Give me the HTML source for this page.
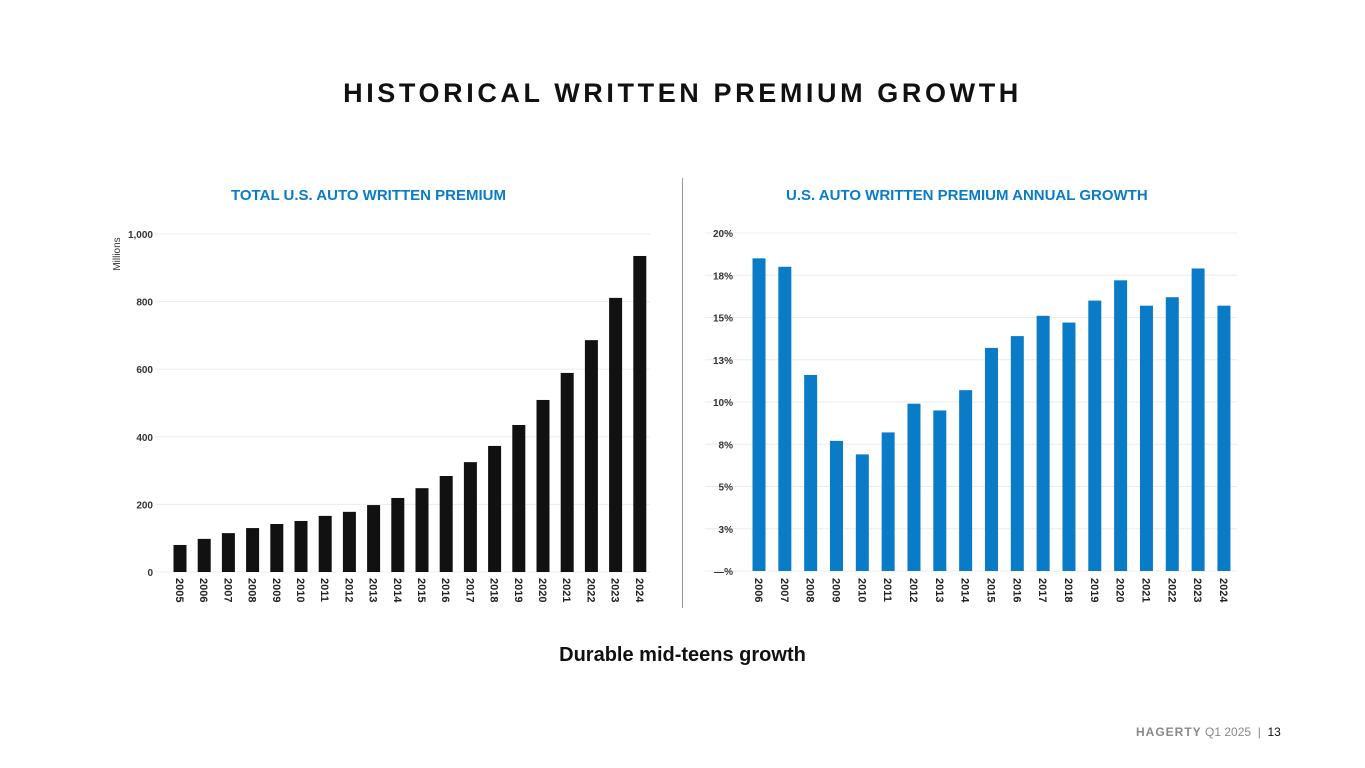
<!DOCTYPE html>
<html><head><meta charset="utf-8"><style>
body{margin:0;width:1365px;height:768px;background:#fff;overflow:hidden;font-family:"Liberation Sans",sans-serif;position:relative}
.t{position:absolute;white-space:nowrap}
</style></head><body>
<div class="t" style="left:0;width:1365px;text-align:center;top:78px;font-size:27px;font-weight:900;letter-spacing:3.6px;color:#111">HISTORICAL WRITTEN PREMIUM GROWTH</div>
<div class="t" style="left:231px;top:187px;font-size:15px;font-weight:bold;color:#0a7cc7">TOTAL U.S. AUTO WRITTEN PREMIUM</div>
<div class="t" style="left:786px;top:187px;font-size:15px;font-weight:bold;color:#0a7cc7">U.S. AUTO WRITTEN PREMIUM ANNUAL GROWTH</div>
<div class="t" style="left:0;width:1365px;text-align:center;top:644px;font-size:20px;font-weight:bold;color:#111">Durable mid-teens growth</div>
<div class="t" style="left:1136px;top:725px;font-size:12px;color:#888"><b style="letter-spacing:1px">HAGERTY</b> Q1 2025 &nbsp;|&nbsp; <span style="color:#111">13</span></div>
<div style="position:absolute;left:682px;top:178px;width:1px;height:430px;background:#999"></div>
<svg id="c" width="1365" height="768" style="position:absolute;left:0;top:0"></svg>
<script>
const leftYears=["2005","2006","2007","2008","2009","2010","2011","2012","2013","2014","2015","2016","2017","2018","2019","2020","2021","2022","2023","2024"];
const leftValues=[80,98,115,130,142,151,166,178,198,219,248,284,325,373,435,509,589,686,811,935];
const leftTicks=[0,200,400,600,800,1000];
const leftTickLabels=["0","200","400","600","800","1,000"];
const rightYears=["2006","2007","2008","2009","2010","2011","2012","2013","2014","2015","2016","2017","2018","2019","2020","2021","2022","2023","2024"];
const rightValues=[18.5,18.0,11.6,7.7,6.9,8.2,9.9,9.5,10.7,13.2,13.9,15.1,14.7,16.0,17.2,15.7,16.2,17.9,15.7];
const rightTicks=[0,2.5,5,7.5,10,12.5,15,17.5,20];
const rightTickLabels=["—%","3%","5%","8%","10%","13%","15%","18%","20%"];
const svg=document.getElementById('c');const NS='http://www.w3.org/2000/svg';
function mk(t,a,txt){const e=document.createElementNS(NS,t);for(const k in a)e.setAttribute(k,a[k]);if(txt!==undefined)e.textContent=txt;svg.appendChild(e);return e;}
function chart(o){
 const y=v=>o.y0-(v/o.max)*(o.y0-o.y1);
 const x=i=>o.x0+i*o.step;
 o.ticks.forEach((t,i)=>{
  const g=mk('line',{x1:o.gx0,x2:o.gx1,y1:y(t),y2:y(t),stroke:'#ececec','stroke-width':1});
  
  const l=mk('text',{x:o.lx,y:y(t)+4,'text-anchor':'end','font-size':10,'font-weight':'bold',fill:'#333'},o.tl[i]);
  
 });
 o.vals.forEach((v,i)=>{
  const r=mk('rect',{x:x(i)-o.bw/2,y:y(v),width:o.bw,height:o.y0-y(v),fill:o.color});
  
  const l=mk('text',{transform:`translate(${x(i)-4},578) rotate(90)`,'font-size':11,'font-weight':'bold',fill:'#222'},o.cats[i]);
  
 });
}
chart({p:'left',cats:leftYears,vals:leftValues,ticks:leftTicks,tl:leftTickLabels,max:1000,y0:572,y1:234,x0:180,step:24.2,bw:13,gx0:155,gx1:650,lx:153,color:'#111'});
chart({p:'right',cats:rightYears,vals:rightValues,ticks:rightTicks,tl:rightTickLabels,max:20,y0:571,y1:233,x0:759,step:25.83,bw:13,gx0:705,gx1:1237,lx:733,color:'#0a7cc7'});
const yl=mk('text',{transform:'translate(120,254) rotate(-90)','font-size':10,fill:'#333','text-anchor':'middle'},'Millions');

</script>
</body></html>
